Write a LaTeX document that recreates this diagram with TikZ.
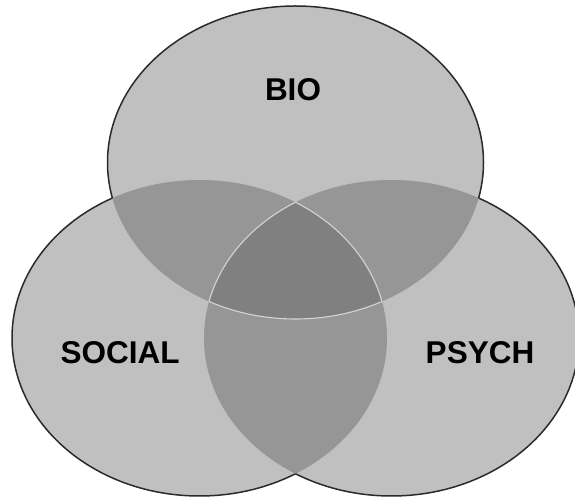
\documentclass[tikz,border=0pt]{standalone}
\usepackage{fontspec}
\setmainfont{Liberation Sans}
\usepackage{tikz}
\definecolor{onegray}{HTML}{C0C0C0}
\definecolor{pairgray}{HTML}{969696}
\definecolor{coregray}{HTML}{808080}
\definecolor{seamgray}{HTML}{D4D4D4}
\definecolor{rimgray}{HTML}{2A2A2A}

\begin{document}
\begin{tikzpicture}[x=1pt, y=1pt,
	setlabel/.style={font=\fontsize{31.5}{36}\selectfont\bfseries, inner sep=0},
	rim/.style={draw=rimgray, line width=1.5pt},
	seam/.style={draw=seamgray, line width=1.1pt}
]
\useasboundingbox (0,0) rectangle (575,500);
\coordinate (bio) at (295.5,337.5);
\coordinate (social) at (199.5,162);
\coordinate (psych) at (391.5,162);
\def\bioset{(bio) ellipse [x radius=188, y radius=156.5]}
\def\socialset{(social) ellipse [x radius=187.5, y radius=158]}
\def\psychset{(psych) ellipse [x radius=187.5, y radius=158]}
\def\frameset{(-20,-20) rectangle (600,520)}

% sets
\fill[onegray] \bioset;
\fill[onegray] \socialset;
\fill[onegray] \psychset;

% pairwise overlaps
\begin{scope}
	\clip \bioset;
	\fill[pairgray] \socialset;
	\fill[pairgray] \psychset;
\end{scope}
\begin{scope}
	\clip \socialset;
	\fill[pairgray] \psychset;
\end{scope}

% centre
\begin{scope}
	\clip \bioset;
	\clip \socialset;
	\fill[coregray] \psychset;
\end{scope}

% light seams round the centre
\begin{scope}
	\clip \bioset;
	\clip \socialset;
	\draw[seam] \psychset;
\end{scope}
\begin{scope}
	\clip \bioset;
	\clip \psychset;
	\draw[seam] \socialset;
\end{scope}
\begin{scope}
	\clip \socialset;
	\clip \psychset;
	\draw[seam] \bioset;
\end{scope}

% dark outer rim
\begin{scope}[even odd rule]
	\clip \frameset \socialset;
	\clip \frameset \psychset;
	\draw[rim] \bioset;
\end{scope}
\begin{scope}[even odd rule]
	\clip \frameset \bioset;
	\clip \frameset \psychset;
	\draw[rim] \socialset;
\end{scope}
\begin{scope}[even odd rule]
	\clip \frameset \bioset;
	\clip \frameset \socialset;
	\draw[rim] \psychset;
\end{scope}

\node[setlabel] (biolbl) at (293,410) {BIO};
\node[setlabel] (sociallbl) at (120,147) {SOCIAL};
\node[setlabel] (psychlbl) at (480,147) {PSYCH};
\end{tikzpicture}
\end{document}
